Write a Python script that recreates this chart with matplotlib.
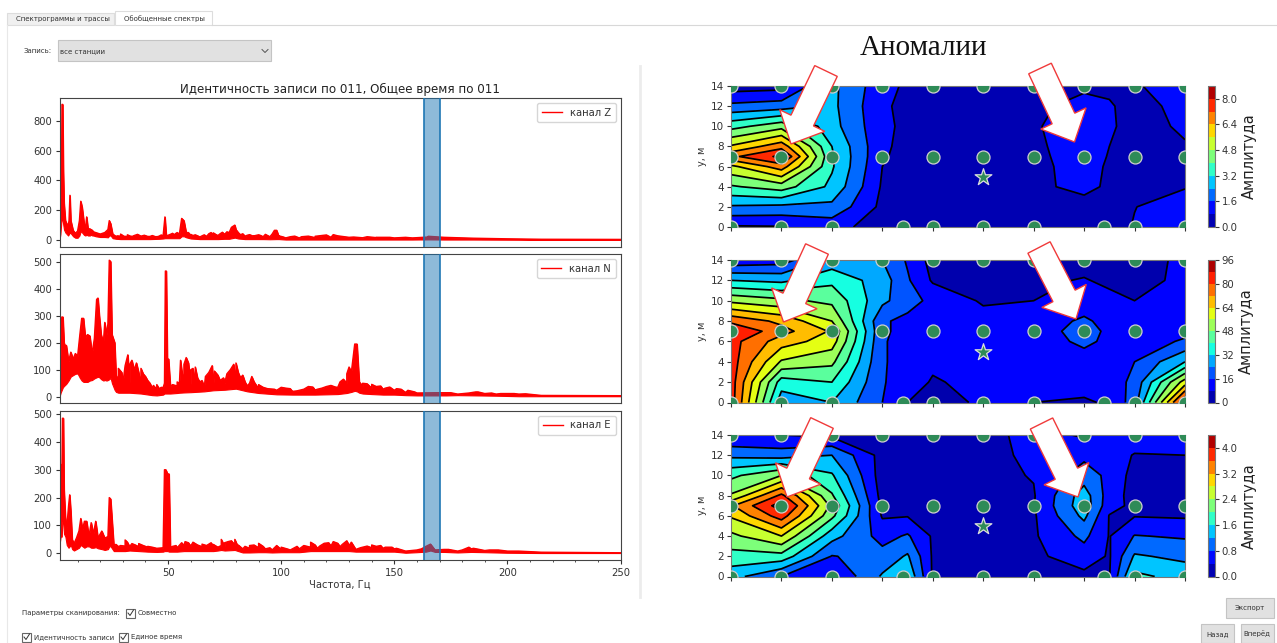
# -*- coding: utf-8 -*-
import matplotlib
matplotlib.use("Agg")
import numpy as np
import matplotlib.pyplot as plt
from matplotlib.patches import Rectangle, Polygon

W, H = 1277, 643

# spectra: frequency, lower and upper edge of the red band
freq_z = [2, 2.4, 2.8, 3.1, 3.4, 3.7, 4, 4.6, 5.2, 5.8, 6.2, 6.6, 7, 8, 9, 10, 10.8, 11.4, 12, 12.8, 13.4, 14, 14.6, 15.4, 16, 16.5, 17, 18, 20, 22, 23.4, 24, 24.6, 25.5, 27, 29, 32, 35, 38, 42, 46, 47.8, 48.6, 49.2, 50, 53, 55, 56, 57, 58, 60, 64, 67, 70, 72, 75, 77, 79.5, 81, 84, 88, 92, 95, 98, 99, 102, 108, 115, 122, 130, 136, 142, 150, 158, 165, 172, 185, 200, 215, 250]
lo_z = [0, 40, 120, 160, 130, 100, 70, 50, 40, 30, 40, 50, 45, 25, 15, 15, 30, 60, 50, 35, 30, 35, 30, 30, 35, 30, 30, 25, 20, 20, 18, 30, 30, 12, 8, 6, 6, 6, 6, 6, 8, 10, 12, 12, 12, 12, 12, 25, 25, 18, 10, 6, 6, 6, 6, 8, 8, 16, 10, 6, 6, 6, 5, 6, 6, 3, 3, 3, 3, 3, 3, 3, 3, 3, 4, 3, 3, 2, 1, 1]
hi_z = [60, 280, 300, 910, 910, 460, 250, 130, 110, 90, 130, 300, 130, 65, 45, 60, 130, 260, 220, 120, 70, 155, 75, 75, 70, 65, 55, 50, 40, 50, 70, 130, 110, 40, 24, 26, 24, 26, 26, 24, 24, 28, 155, 28, 32, 30, 40, 145, 130, 50, 28, 20, 24, 36, 30, 38, 50, 100, 50, 26, 24, 22, 22, 65, 22, 14, 14, 16, 18, 18, 15, 16, 14, 14, 20, 18, 12, 8, 5, 4]

freq_n = [2, 2.5, 3, 3.5, 4, 4.4, 5, 6, 7, 8,
          9, 10, 11, 11.8, 12.6, 13.4, 14.4, 15.4, 16.4, 17.4,
          18.4, 19, 19.6, 20.4, 21.4, 22, 22.8, 23.4, 24, 24.6,
          25.2, 26.4, 27, 28, 30, 33, 38, 43, 45, 47.8,
          48.4, 48.8, 49.2, 49.8, 50.2, 51, 54, 55, 57, 60,
          62, 66, 70, 75, 80, 85, 90, 98, 105, 115,
          125, 129, 131, 132.5, 133.5, 134.5, 136, 140, 145, 150,
          155, 160, 168, 173, 178, 187, 195, 205, 215, 250]
lo_n = [0, 15, 25, 35, 40, 43, 48, 60, 75, 80,
        85, 86, 70, 60, 55, 55, 55, 60, 62, 68,
        72, 74, 72, 65, 60, 62, 60, 62, 65, 70,
        50, 25, 18, 15, 15, 15, 12, 6, 5, 8,
        12, 12, 12, 12, 12, 12, 14, 15, 16, 17,
        18, 20, 24, 26, 30, 20, 14, 9, 8, 8,
        10, 14, 18, 22, 20, 15, 12, 10, 8, 8,
        6, 5, 5, 5, 6, 5, 4, 2, 2, 2]
hi_n = [50, 160, 295, 295, 200, 190, 190, 130, 165, 140,
        160, 150, 230, 290, 290, 220, 230, 225, 160, 215,
        360, 365, 300, 230, 200, 275, 230, 270, 505, 500,
        230, 200, 80, 60, 50, 50, 45, 32, 28, 34,
        50, 465, 465, 45, 140, 40, 40, 50, 50, 45,
        45, 35, 45, 50, 55, 40, 30, 24, 20, 25,
        35, 50, 90, 195, 195, 55, 40, 32, 28, 24,
        16, 14, 15, 15, 10, 18, 10, 10, 5, 4]

freq_e = [2, 2.5, 3, 3.3, 3.7, 4, 4.6, 5.2, 6, 6.5, 7, 7.6, 8.4, 9.5, 10.6, 11.4, 12.2, 13, 14, 15, 16, 17, 18, 19, 20.7, 22, 23.4, 24, 24.6, 26, 28, 31, 33, 37, 41, 45, 47.8, 48.4, 49, 49.8, 50.4, 51, 54, 57, 60, 65, 70, 72, 73.5, 75, 79.5, 81, 83, 86, 90, 93, 96, 100, 104, 108, 113, 116, 122, 126, 130, 133, 140, 145, 150, 155, 160, 164, 166, 168, 172, 178, 184, 190, 200, 215, 250]
lo_e = [30, 60, 60, 120, 110, 70, 60, 30, 20, 25, 30, 15, 10, 15, 20, 30, 25, 20, 25, 25, 20, 20, 22, 18, 15, 12, 15, 25, 25, 8, 8, 8, 10, 8, 6, 5, 6, 8, 8, 8, 6, 6, 6, 8, 8, 8, 8, 10, 12, 10, 12, 8, 3, 3, 4, 4, 3, 4, 4, 4, 8, 8, 8, 8, 8, 6, 6, 6, 6, 2, 4, 6, 10, 5, 5, 3, 5, 4, 2, 1, 1]
hi_e = [290, 320, 240, 485, 485, 230, 130, 90, 170, 210, 150, 50, 35, 55, 80, 125, 85, 115, 115, 60, 110, 70, 115, 55, 80, 55, 60, 200, 195, 30, 24, 26, 24, 24, 22, 18, 20, 300, 300, 285, 285, 22, 20, 28, 26, 24, 26, 22, 28, 26, 30, 22, 16, 18, 20, 16, 12, 14, 12, 16, 22, 18, 26, 24, 28, 14, 20, 18, 16, 8, 12, 25, 33, 12, 14, 8, 16, 10, 8, 4, 2]

# narrow peaks standing above the band
spike_f_z = [27.5, 29, 30.5, 32, 33.5, 35, 36.5, 38, 39.5, 41, 43, 44.5, 46, 47, 51, 52, 53, 54, 59, 60, 61, 62, 63.5, 65, 66, 68, 69, 70, 71, 73, 74, 76, 78, 80, 82, 83, 85, 86, 88, 90, 91, 93, 94, 96, 97, 99, 101, 104, 106, 109, 112, 115, 118, 120, 123, 125, 128, 132, 138, 142, 148, 155, 165, 170]
spike_a_z = [28, 40, 25, 35, 25, 30, 38, 26, 32, 24, 30, 22, 26, 34, 38, 45, 40, 50, 50, 38, 30, 35, 25, 28, 35, 42, 50, 48, 38, 42, 52, 55, 85, 70, 35, 42, 32, 36, 28, 35, 30, 38, 30, 40, 65, 28, 20, 22, 26, 22, 26, 25, 30, 34, 36, 28, 22, 20, 22, 18, 18, 18, 25, 20]
spike_f_n = [28, 29.5, 31, 32.2, 33, 34, 35, 36, 37, 38, 39, 40, 41, 42, 43.5, 45, 46, 47, 52, 54, 55.5, 56, 57, 58, 59, 60, 61, 62, 63, 64, 65, 66.5, 68, 69.5, 70.5, 72, 73, 74.5, 76, 77.5, 79, 80, 81, 82, 83, 84, 86, 87, 88, 90, 92, 94, 97, 100, 102, 104, 107, 110, 112, 114, 116, 118, 120, 122, 124, 126, 127.5, 129, 130, 131, 136, 138, 140, 142, 144, 146, 148, 151, 153, 156, 159, 175, 178, 183, 186, 190, 193, 197, 203, 208]
spike_a_n = [105, 90, 115, 155, 120, 135, 100, 125, 90, 105, 85, 75, 60, 50, 42, 45, 30, 35, 45, 55, 135, 100, 120, 145, 125, 100, 105, 110, 70, 55, 60, 75, 90, 115, 95, 80, 60, 70, 85, 100, 120, 125, 90, 70, 80, 55, 50, 75, 55, 45, 35, 30, 28, 35, 32, 30, 22, 28, 38, 36, 28, 32, 38, 42, 36, 55, 65, 85, 110, 90, 50, 48, 46, 38, 40, 32, 36, 30, 28, 24, 18, 15, 10, 14, 18, 12, 14, 12, 12, 11]
spike_f_e = [27, 29, 31, 32, 34, 35.5, 37, 39, 41, 43, 52, 53.5, 56, 57.5, 59, 61, 63, 65, 67, 69, 70, 73.5, 75, 76.5, 78, 79.5, 81, 84, 86, 88, 90, 92, 95, 98, 100, 103, 107, 110, 113, 115, 117, 119, 121, 123, 125, 127, 129, 131, 135, 138, 140, 142, 144, 146, 149, 151, 162, 174, 180, 183, 185, 187, 192, 196, 205]
spike_a_e = [32, 28, 48, 40, 35, 30, 35, 28, 25, 22, 25, 28, 38, 42, 38, 40, 30, 33, 28, 38, 32, 50, 38, 42, 45, 50, 30, 25, 28, 30, 36, 25, 20, 28, 22, 15, 25, 28, 40, 30, 26, 36, 38, 42, 36, 32, 45, 40, 20, 26, 30, 25, 28, 22, 22, 18, 16, 14, 12, 22, 18, 15, 12, 12, 8]

span_band = [163.3, 170.4]

# sensor layout
x_grid = [0, 1, 2, 3, 3.5, 4, 5, 6, 7, 7.5, 8, 9]
y_grid = [0, 2, 4, 6, 7, 8, 10, 12, 14]
x_pts = [0, 1, 2, 3, 4, 5, 6, 7, 8, 9, 0, 1, 2, 3, 4, 5, 6, 7, 8, 9, 0, 1, 2, 3.4, 4, 5, 6, 7.4, 8, 9]
y_pts = [14] * 10 + [7] * 10 + [0] * 10
star_x = [5]
star_y = [5]

# amplitude maps, one row per y_grid value
amp_1 = [
    [.7, .75, 1.1, .4, .3, .2, .2, .2, .3, .5, .85, 1.1],
    [2.3, 2.2, 2.2, .6, .4, .2, .2, .2, .45, .6, .78, 1.2],
    [3.9, 4.4, 3.0, .7, .45, .2, .2, .6, 1.05, .65, .4, .75],
    [5.4, 6.8, 3.3, .8, .45, .2, .2, .6, 1.1, .7, .5, .3],
    [7.0, 8.2, 3.3, .9, .5, .2, .2, .6, 1.2, .75, .3, .3],
    [5.7, 6.9, 3.2, .95, .55, .2, .2, .65, 1.2, .8, .3, .75],
    [3.7, 4.5, 2.7, 1.0, .6, .2, .2, .7, 1.3, .9, .55, .9],
    [1.8, 2.0, 2.6, .95, .55, .2, .2, .5, 1.25, .9, .45, 1.1],
    [.4, .5, 2.6, 1.1, .65, .2, .2, .3, .55, .6, .7, 1.3],
]
amp_2 = [
    [84, 27, 32, 16, 8, 3, 10, 8, 7, 9, 20, 88],
    [84, 36, 40, 16.5, 13, 7, 11, 11, 11, 12, 18, 60],
    [84, 55, 50, 16.5, 14, 10, 11, 11, 12, 13, 16, 32],
    [83, 68, 60, 16.5, 14, 11, 12, 11, 18, 14, 12, 17],
    [88, 75, 63, 17, 14, 11, 12, 11, 20, 14, 12, 14],
    [78, 70, 56, 17, 14, 13, 11, 11, 17.5, 13, 11, 12],
    [54, 50, 46, 26, 19, 14, 7, 8, 11, 10, 8, 11],
    [32, 30, 38, 28, 17, 7, 5, 6.5, 8.5, 6.5, 5, 10],
    [10, 12, 27, 24, 15, 5, 4, 5, 5, 4.5, 4, 10],
]
amp_3 = [
    [1.35, .8, .38, 1.25, 1.55, .35, .1, .2, .3, .38, 1.7, 1.45],
    [1.85, 1.85, .78, .95, 1.25, .35, .1, .32, .6, .36, 1.25, 1.1],
    [2.3, 2.8, 1.35, .65, .85, .35, .1, .35, .9, .38, .82, .75],
    [2.85, 3.8, 2.1, .36, .38, .3, .1, .35, 1.3, .38, .38, .35],
    [3.15, 4.2, 2.3, .3, .2, .15, .15, .38, 1.45, .55, .3, .25],
    [2.45, 3.7, 2.05, .25, .15, .15, .15, .37, 1.4, .6, .25, .2],
    [1.9, 2.4, 1.65, .2, .15, .15, .3, .42, 1.0, .7, .25, .25],
    [1.1, 1.0, 1.2, .25, .15, .15, .25, .5, .7, .55, .38, .4],
    [.4, .4, .3, .15, .15, .15, .25, .55, .35, .5, .6, .6],
]
levels_1 = [0, .8, 1.6, 2.4, 3.2, 4.0, 4.8, 5.6, 6.4, 7.2, 8.0, 8.8]
levels_2 = [0, 8, 16, 24, 32, 40, 48, 56, 64, 72, 80, 88, 96]
levels_3 = [0, .4, .8, 1.2, 1.6, 2.0, 2.4, 2.8, 3.2, 3.6, 4.0, 4.4]
cbar_ticks_1 = [0, 1.6, 3.2, 4.8, 6.4, 8.0]
cbar_ticks_2 = [0, 16, 32, 48, 64, 80, 96]
cbar_ticks_3 = [0, .8, 1.6, 2.4, 3.2, 4.0]

fig = plt.figure(figsize=(W / 100, H / 100), dpi=100, facecolor="white")


def ax_px(x0, y0, x1, y1):
    # axes from pixel box, y counted from the top
    return fig.add_axes([x0 / W, 1 - y1 / H, (x1 - x0) / W, (y1 - y0) / H])


# left column
left_panels = [
    (98, 247, freq_z, lo_z, hi_z, spike_f_z, spike_a_z, (-47, 953), [0, 200, 400, 600, 800], "канал Z"),
    (254, 403, freq_n, lo_n, hi_n, spike_f_n, spike_a_n, (-23, 528), [0, 100, 200, 300, 400, 500], "канал N"),
    (411, 560, freq_e, lo_e, hi_e, spike_f_e, spike_a_e, (-24, 511), [0, 100, 200, 300, 400, 500], "канал E"),
]
for i, (top, bottom, fr, lo, hi, sp_f, sp_a, ylim, yt, name) in enumerate(left_panels):
    ax = ax_px(59.5, top, 620.5, bottom)
    # upper edge runs through the band points and the narrow peaks
    all_f = np.array(list(fr) + list(sp_f), float)
    all_a = np.array(list(hi) + list(sp_a), float)
    order = np.argsort(all_f, kind="stable")
    all_f = all_f[order]
    all_a = all_a[order]
    ax.fill_between(all_f, np.interp(all_f, fr, lo), all_a, color="red", lw=0.8)
    ax.plot(all_f, all_a, color="red", lw=1.0, label=name)
    ax.axvspan(span_band[0], span_band[1], facecolor="#1f77b4", alpha=0.5, edgecolor="none", zorder=3)
    ax.axvline(span_band[0], color="#1f77b4", lw=1.2, zorder=4)
    ax.axvline(span_band[1], color="#1f77b4", lw=1.2, zorder=4)
    ax.set_xlim(2, 250)
    ax.set_ylim(*ylim)
    ax.set_yticks(yt)
    ax.tick_params(labelsize=7.2, colors="#333333", length=3, pad=2.5)
    ax.legend(loc="upper right", fontsize=7.2, borderpad=0.45, handlelength=2.0, labelcolor="#333333")
    for s in ax.spines.values():
        s.set_color("#444444")
    if i == 2:
        ax.set_xticks([50, 100, 150, 200, 250])
        ax.set_xticks(np.arange(10, 250, 10), minor=True)
        ax.tick_params(axis="x", which="minor", length=1.5, color="#333333")
        ax.set_xlabel("Частота, Гц", fontsize=7.2, color="#333333", labelpad=1.5)
    else:
        ax.set_xticks([])
    if i == 0:
        ax.set_title("Идентичность записи по 011, Общее время по 011", fontsize=8.6, color="#222222", pad=3.5)

# right column
right_panels = [
    (86, 227, amp_1, levels_1, cbar_ticks_1, "%.1f"),
    (260, 402.5, amp_2, levels_2, cbar_ticks_2, "%d"),
    (435, 576.5, amp_3, levels_3, cbar_ticks_3, "%.1f"),
]
for top, bottom, amp, levels, cticks, fmt in right_panels:
    ax = ax_px(731, top, 1185, bottom)
    cf = ax.contourf(x_grid, y_grid, amp, levels=levels, cmap="jet")
    ax.contour(x_grid, y_grid, amp, levels=levels, colors="black", linewidths=1.25)
    ax.scatter(x_pts, y_pts, s=88, color="#2e8b57", edgecolors="#cfcfcf", linewidths=0.9, zorder=5)
    ax.scatter(star_x, star_y, s=160, marker="*", color="#2e8b57", edgecolors="#dddddd", linewidths=0.9, zorder=5)
    ax.set_xlim(0, 9)
    ax.set_ylim(0, 14)
    ax.set_xticks(range(10))
    ax.set_xticklabels([])
    ax.set_yticks(range(0, 15, 2))
    ax.tick_params(labelsize=7.5, colors="#333333", length=3, pad=2)
    ax.set_ylabel("у, м", fontsize=7, color="#333333", labelpad=3)
    for s in ax.spines.values():
        s.set_color("#777777")
    cax = ax_px(1207.5, top, 1214.5, bottom)
    cb = fig.colorbar(cf, cax=cax, ticks=cticks, format=fmt)
    cb.ax.tick_params(labelsize=7.3, colors="#333333", length=3, pad=2)
    cb.set_label("Амплитуда", fontsize=10.5, color="#222222", labelpad=3)
    cb.outline.set_edgecolor("#777777")

# overlay in pixel coordinates: arrows and the window widgets
ov = fig.add_axes([0, 0, 1, 1], zorder=10)
ov.set_xlim(0, W)
ov.set_ylim(H, 0)
ov.axis("off")
ov.patch.set_alpha(0)


def arrow(tail, tip, shaft=12.5, head=25, head_len=26):
    t = np.array(tail, float)
    p = np.array(tip, float)
    d = (p - t) / np.hypot(*(p - t))
    n = np.array([-d[1], d[0]])
    b = p - d * head_len
    pts = [t + n * shaft, b + n * shaft, b + n * head, p, b - n * head, b - n * shaft, t - n * shaft]
    ov.add_patch(Polygon(pts, closed=True, facecolor="white", edgecolor="#f03a3a", lw=1.0, zorder=6))


arrow_tails = [(826, 71), (1040, 68.5), (817, 249), (1039, 247.5), (822, 423), (1041.5, 423.5)]
arrow_tips = [(791, 144), (1074.5, 142), (783.5, 322), (1076, 319), (787, 497), (1078, 497)]
for tail, tip in zip(arrow_tails, arrow_tips):
    arrow(tail, tip)

ov.text(923, 48, "Аномалии", family="Liberation Serif", fontsize=21, ha="center", va="center", color="#111111")


def box(x0, y0, x1, y1, fc="#e1e1e1", ec="#c4c4c4"):
    ov.add_patch(Rectangle((x0, y0), x1 - x0, y1 - y0, facecolor=fc, edgecolor=ec, lw=0.8))


def label(x, y, s, ha="left", size=5.0):
    ov.text(x, y, s, fontsize=size, ha=ha, va="center", color="#333333")


def check(x, y):
    box(x, y - 4.5, x + 9, y + 4.5, fc="white", ec="#666666")
    ov.plot([x + 2, x + 4, x + 7.5], [y, y + 2.5, y - 3], color="#333333", lw=0.7)


# tab pane frame
ov.plot([7, 7], [25, H], color="#e8e8e8", lw=0.8)
ov.plot([212, W], [25, 25], color="#d8d8d8", lw=0.8)
ov.plot([640, 640], [66, 597], color="#ececec", lw=2)
box(7, 13, 114, 25, fc="#f0f0f0", ec="#dddddd")
box(115, 11, 212, 25, fc="white", ec="#dddddd")
label(16, 19.5, "Спектрограммы и трассы")
label(124, 19, "Обобщенные спектры")
label(24, 51, "Запись:")
box(58, 40, 271, 61)
label(60, 51, "все станции")
ov.plot([262, 265, 268], [49.5, 52.5, 49.5], color="#555555", lw=0.7)
label(22, 613, "Параметры сканирования:")
check(126, 613)
label(138, 613, "Совместно")
check(22, 637)
label(34, 637, "Идентичность записи")
check(119, 637)
label(131, 637, "Единое время")
box(1226, 598, 1274, 618)
label(1250, 608, "Экспорт", ha="center")
box(1201, 624, 1234, 643)
label(1217.5, 634, "Назад", ha="center")
box(1240.5, 624, 1274, 643)
label(1257, 634, "Вперёд", ha="center")

fig.savefig("out.png", dpi=100)
